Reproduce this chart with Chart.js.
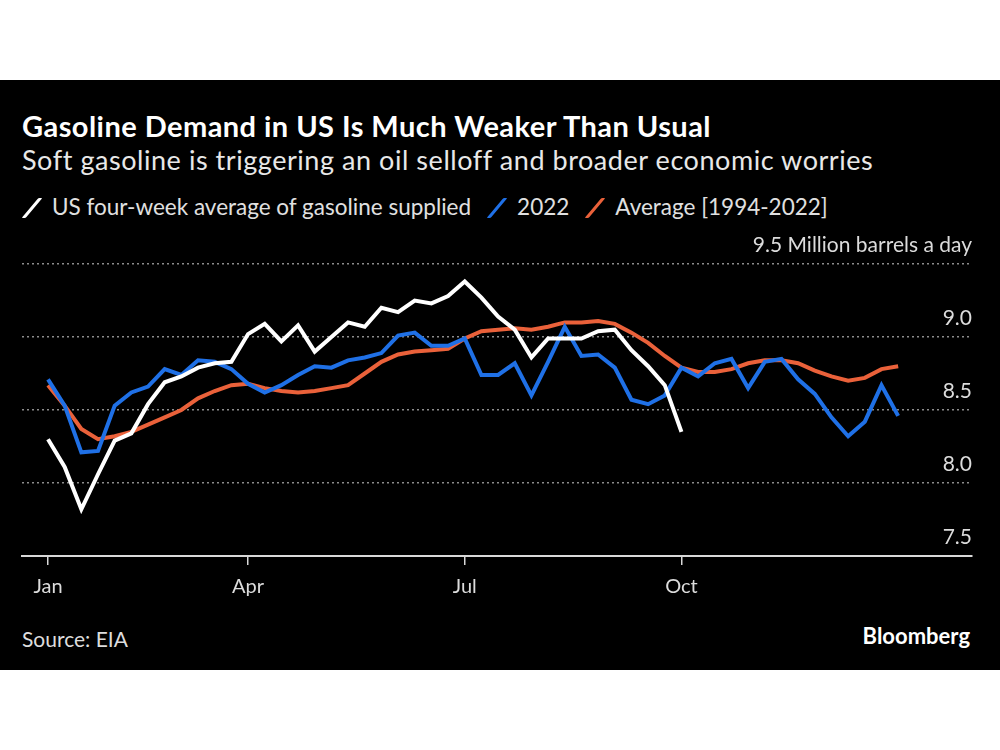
<!DOCTYPE html>
<html>
<head>
<meta charset="utf-8">
<script src="https://cdn.jsdelivr.net/npm/chart.js@4"></script>
<style>
  body { margin: 0; background: #fff; font-family: Lato, "Open Sans", sans-serif; }
  #panel { position: absolute; left: 0; top: 80px; width: 1000px; height: 590px; background: #000; overflow: hidden; }
  .txt { position: absolute; left: 22px; white-space: nowrap; line-height: 1; }
  #title { top: 31px; font-size: 29px; letter-spacing: 0.45px; font-weight: 700; color: #fff; }
  #subtitle { top: 66px; font-size: 27px; letter-spacing: 0.55px; color: #e8e8e8; }
  #legend { top: 116px; font-size: 22.5px; letter-spacing: 0px; color: #e0e0e0; }
  #legend .sw { display: inline-block; width: 4px; height: 20px; transform: skewX(-40deg); margin: 0 18px 0 24px; vertical-align: -3px; border-radius: 1px; }
  #legend .sw.first { margin-left: 8px; }
  #source { top: 548px; font-size: 21px; color: #ddd; }
  #brand { position: absolute; right: 30px; top: 545px; font-size: 22px; font-weight: 700; color: #fff; line-height: 1; }
  #wrap { position: absolute; left: 0; top: 150px; width: 1000px; height: 386px; }
</style>
</head>
<body>
<div id="panel">
  <div class="txt" id="title">Gasoline Demand in US Is Much Weaker Than Usual</div>
  <div class="txt" id="subtitle">Soft gasoline is triggering an oil selloff and broader economic worries</div>
  <div class="txt" id="legend"></div>
  <div id="wrap"><canvas id="chart"></canvas></div>
  <div class="txt" id="source">Source: EIA</div>
  <div id="brand">Bloomberg</div>
</div>
<script>
// weekly values, million barrels a day
const seriesNames = ["US four-week average of gasoline supplied", "2022", "Average [1994-2022]"];
const seriesColors = ["#ffffff", "#1f70e6", "#ea613a"];

const supplied = [8.30, 8.11, 7.82, 8.06, 8.29, 8.34, 8.54, 8.69, 8.73, 8.79,
  8.82, 8.83, 9.02, 9.09, 8.97, 9.08, 8.90, 9.00, 9.10, 9.07,
  9.20, 9.17, 9.25, 9.23, 9.28, 9.38, 9.27, 9.14, 9.05, 8.86,
  8.99, 8.99, 8.99, 9.04, 9.05, 8.91, 8.80, 8.67, 8.35];

const y2022 = [8.71, 8.53, 8.21, 8.22, 8.53, 8.62, 8.66, 8.78, 8.74, 8.84,
  8.83, 8.78, 8.68, 8.62, 8.67, 8.74, 8.80, 8.79, 8.84, 8.86,
  8.89, 9.01, 9.03, 8.94, 8.94, 8.99, 8.74, 8.74, 8.82, 8.60,
  8.83, 9.07, 8.87, 8.88, 8.79, 8.57, 8.54, 8.60, 8.79, 8.73,
  8.82, 8.85, 8.65, 8.83, 8.85, 8.71, 8.61, 8.45, 8.32, 8.42,
  8.67, 8.46];

const avg = [8.67, 8.53, 8.37, 8.30, 8.32, 8.35, 8.40, 8.45, 8.50, 8.58,
  8.63, 8.67, 8.68, 8.65, 8.63, 8.62, 8.63, 8.65, 8.67, 8.75,
  8.83, 8.88, 8.90, 8.91, 8.92, 8.99, 9.04, 9.05, 9.06, 9.05,
  9.07, 9.10, 9.10, 9.11, 9.09, 9.03, 8.96, 8.87, 8.79, 8.76,
  8.76, 8.78, 8.82, 8.84, 8.84, 8.82, 8.77, 8.73, 8.70, 8.72,
  8.78, 8.80];

// week index where each month label sits
const monthTicks = [0, 12, 25, 38];
const monthLabels = ["Jan", "Apr", "Jul", "Oct"];
const yTicks = [7.5, 8.0, 8.5, 9.0, 9.5];

// legend
let legend = document.querySelector("#legend");
seriesNames.forEach((name, i) => {
  let sw = document.createElement("span");
  sw.className = "sw" + (i == 0 ? " first" : "");
  sw.style.background = seriesColors[i];
  let label = document.createElement("span");
  label.textContent = name;
  legend.appendChild(sw);
  legend.appendChild(label);
});

function toPoints(values) {
  return values.map((v, i) => ({ x: i, y: v }));
}

let ctx = document.getElementById("chart").getContext("2d");
let chart = new Chart(ctx, {
  type: "line",
  data: {
    datasets: [
      { label: seriesNames[2], data: toPoints(avg), borderColor: seriesColors[2], order: 3 },
      { label: seriesNames[1], data: toPoints(y2022), borderColor: seriesColors[1], order: 2 },
      { label: seriesNames[0], data: toPoints(supplied), borderColor: seriesColors[0], order: 1 },
    ],
  },
  options: {
    responsive: true,
    maintainAspectRatio: false,
    animation: false,
    layout: { padding: { left: 22, right: 28, top: 34, bottom: 7 } },
    elements: {
      point: { radius: 0 },
      line: { borderWidth: 4, tension: 0, borderJoinStyle: "miter", borderCapStyle: "butt" },
    },
    plugins: { legend: { display: false }, tooltip: { enabled: false } },
    scales: {
      x: {
        type: "linear",
        min: -1.56,
        max: 55.43,
        afterBuildTicks: (scale) => {
          scale.ticks = monthTicks.map((v) => ({ value: v }));
        },
        grid: { drawOnChartArea: false, drawTicks: true, tickLength: 9, color: "#d8d8d8", lineWidth: 1.5 },
        border: { display: true, color: "#d8d8d8", width: 2 },
        ticks: {
          color: "#dcdcdc",
          font: { family: "Lato", size: 20 },
          padding: 10,
          maxRotation: 0,
          autoSkip: false,
          callback: (v) => monthLabels[monthTicks.indexOf(v)],
        },
      },
      y: {
        position: "right",
        min: 7.5,
        max: 9.5,
        afterBuildTicks: (scale) => {
          scale.ticks = yTicks.map((v) => ({ value: v }));
        },
        grid: {
          drawTicks: false,
          lineWidth: 1.5,
          color: (c) => (c.tick && c.tick.value == 7.5 ? "rgba(0,0,0,0)" : "#8c8c8c"),
        },
        border: { display: false, dash: [2, 3] },
        ticks: {
          mirror: true,
          padding: 0,
          labelOffset: -19,
          color: "#dcdcdc",
          font: { family: "Lato", size: 21 },
          callback: (v) => (v == 9.5 ? "9.5 Million barrels a day" : v.toFixed(1)),
        },
      },
    },
  },
});
</script>
</body>
</html>
